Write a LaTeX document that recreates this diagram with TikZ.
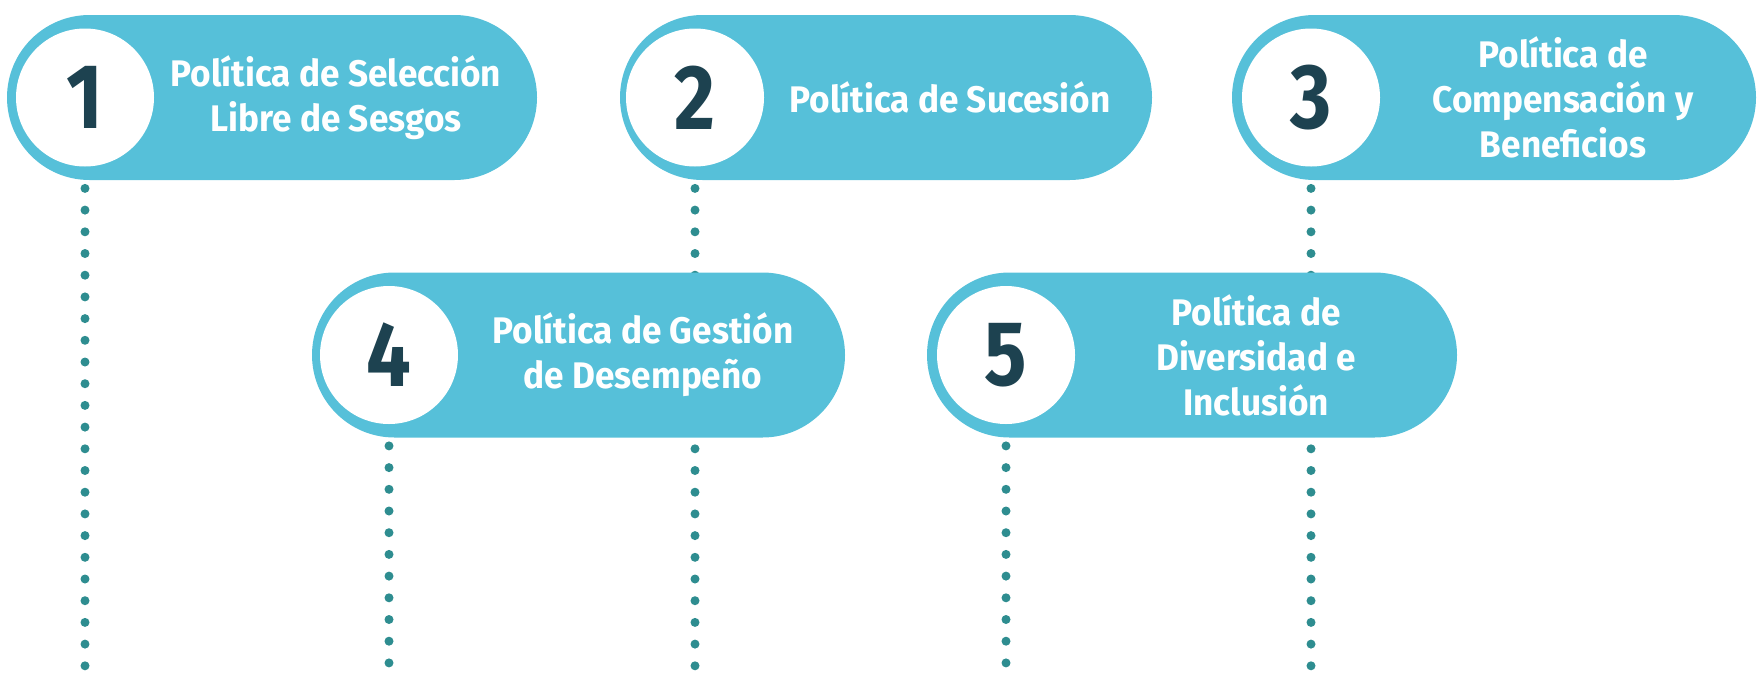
\documentclass[tikz,border=0pt]{standalone}
\usepackage{fontspec}
\setmainfont{Fira Sans}[FakeStretch=0.95]
\newfontfamily\numfont{Fira Sans}[FakeStretch=0.86]
\usetikzlibrary{shapes.misc}
\definecolor{pillblue}{HTML}{56C0D9}
\definecolor{numdark}{HTML}{1D4250}
\definecolor{dotteal}{HTML}{2E8D90}
\pgfdeclarelayer{back}
\pgfsetlayers{back,main}

\begin{document}
\begin{tikzpicture}[x=1pt,y=-1pt,
    pill/.style={rounded rectangle, fill=pillblue, minimum height=165pt, inner sep=0pt},
    numcirc/.style={circle, fill=white, minimum size=138pt, inner sep=0pt, text=numdark,
      font=\numfont\fontsize{92}{92}\selectfont\bfseries},
    pilltext/.style={text=white, align=center, font=\fontsize{37}{45}\selectfont\bfseries},
    dotline/.style={dotteal, line width=9pt, line cap=round, dash pattern=on 0pt off 21.7pt}]
  \useasboundingbox (0,0) rectangle (1759,673);
  \coordinate (bottom) at (0,690);

  \node[pill, minimum width=530pt] (p1) at (272,97.5) {};
  \node[pill, minimum width=532pt] (p2) at (886,97.5) {};
  \node[pill, minimum width=524pt] (p3) at (1494,97.5) {};
  \node[pill, minimum width=533pt] (p4) at (578.5,355) {};
  \node[pill, minimum width=530pt] (p5) at (1192,355) {};

  \node[numcirc] (n1) at (85,97.5) {1};
  \node[numcirc] (n2) at (695,97.5) {2};
  \node[numcirc] (n3) at (1311,97.5) {3};
  \node[numcirc] (n4) at (389,355) {4};
  \node[numcirc] (n5) at (1006,355) {5};

  \node[pilltext] (l1) at (336,97.5) {Política de Selección\\Libre de Sesgos};
  \node[pilltext] (l2) at (950,97.5) {Política de Sucesión};
  \node[pilltext] (l3) at (1563,97.5) {Política de\\Compensación y\\Beneficios};
  \node[pilltext] (l4) at (643,355) {Política de Gestión\\de Desempeño};
  \node[pilltext] (l5) at (1256,355) {Política de\\Diversidad e\\Inclusión};

  \begin{pgfonlayer}{back}
    \foreach \n in {1,...,5}
      \draw[dotline] (n\n) -- (n\n |- bottom);
  \end{pgfonlayer}
\end{tikzpicture}
\end{document}
